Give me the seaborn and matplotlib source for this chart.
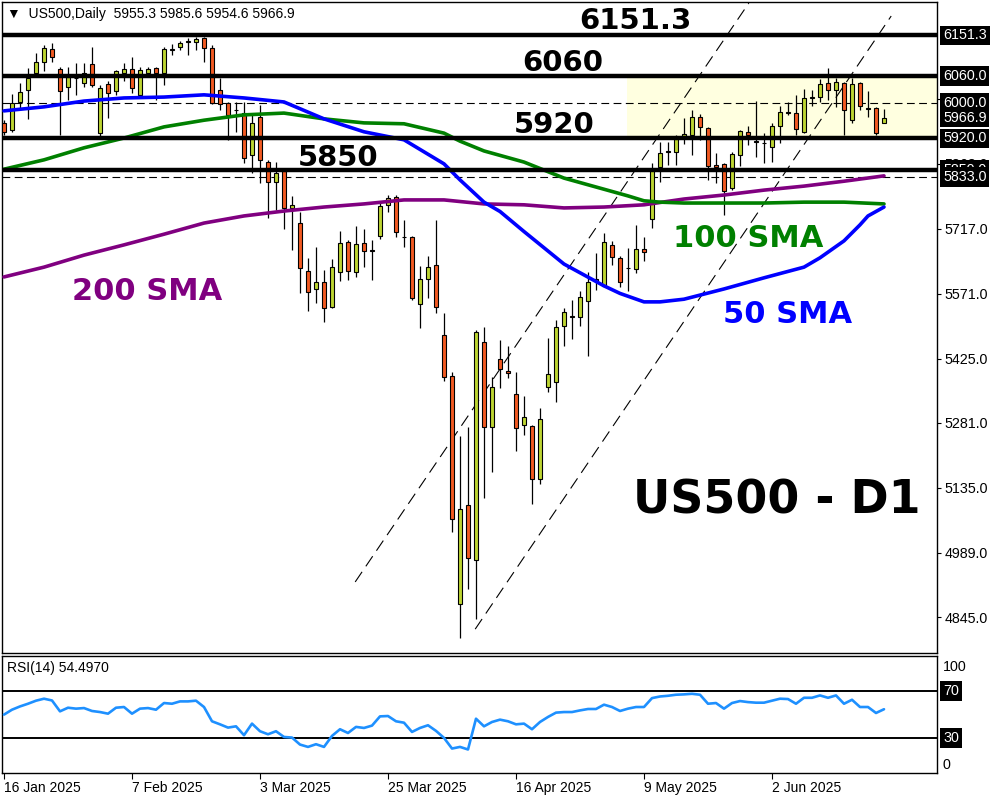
import numpy as np
import pandas as pd
import matplotlib
matplotlib.use("Agg")
import matplotlib.pyplot as plt
from matplotlib.transforms import blended_transform_factory
import seaborn as sns

sns.set_theme(style="white")
plt.rcParams["font.family"] = ["Liberation Sans", "DejaVu Sans"]

# Tageskerzen US500 (Open/High/Low/Close)
opens = [5955, 5939, 6002, 6029, 6067, 6092, 6121, 6076, 6036, 6056,
         6045, 6087, 5932, 6042, 6027, 6067, 6076, 6018, 6067, 6078,
         6067, 6119, 6125, 6137, 6137, 6146, 6123, 6029, 6000, 5984,
         5977, 5883, 5968, 5867, 5822, 5847, 5764, 5730, 5622, 5582,
         5598, 5541, 5620, 5687, 5620, 5685, 5669, 5701, 5771, 5789,
         5699, 5699, 5548, 5604, 5636, 5479, 5386, 4874, 5097, 4973,
         5463, 5272, 5425, 5398, 5346, 5276, 5274, 5155, 5362, 5373,
         5499, 5521, 5519, 5555, 5604, 5589, 5681, 5652, 5629, 5627,
         5672, 5739, 5856, 5890, 5890, 5926, 5928, 5968, 5944, 5860,
         5863, 5809, 5883, 5935, 5914, 5910, 5901, 5948, 5979, 5977,
         5935, 6013, 6013, 6045, 6029, 6045, 5961, 6045, 5988, 5988,
         5955.3]
highs = [5961, 6020, 6045, 6078, 6112, 6130, 6134, 6080, 6080, 6090,
         6090, 6125, 6040, 6049, 6074, 6090, 6103, 6080, 6080, 6080,
         6125, 6132, 6139, 6146, 6148, 6148, 6130, 6056, 6002, 6002,
         6002, 5977, 5995, 5872, 5867, 5849, 5791, 5755, 5652, 5676,
         5625, 5649, 5712, 5692, 5723, 5717, 5692, 5775, 5793, 5793,
         5737, 5701, 5634, 5656, 5737, 5528, 5395, 5252, 5272, 5489,
         5497, 5384, 5467, 5454, 5395, 5342, 5276, 5315, 5472, 5512,
         5539, 5557, 5577, 5620, 5663, 5708, 5690, 5656, 5674, 5726,
         5699, 5865, 5912, 5912, 5928, 5966, 5984, 5975, 5946, 5887,
         5865, 5890, 5939, 5948, 6004, 5932, 5955, 5993, 6002, 6018,
         6031, 6029, 6054, 6078, 6056, 6047, 6056, 6047, 6027, 5991,
         5985.6]
lows = [5928, 5935, 5984, 5964, 6058, 6072, 6092, 5928, 6006, 6018,
        6036, 6036, 5926, 5966, 6018, 6049, 6022, 6013, 6058, 6006,
        6040, 6107, 6119, 6107, 6119, 6092, 5997, 5984, 5917, 5935,
        5865, 5842, 5820, 5741, 5759, 5717, 5669, 5573, 5532, 5550,
        5508, 5539, 5600, 5602, 5609, 5631, 5602, 5694, 5755, 5699,
        5676, 5557, 5494, 5562, 5528, 5375, 5036, 4798, 4908, 4841,
        5112, 5171, 5360, 5382, 5218, 5254, 5099, 5144, 5351, 5328,
        5454, 5470, 5499, 5431, 5580, 5586, 5636, 5586, 5577, 5618,
        5645, 5719, 5822, 5860, 5860, 5908, 5883, 5917, 5827, 5820,
        5748, 5804, 5858, 5905, 5878, 5865, 5867, 5910, 5973, 5928,
        5932, 5993, 6002, 6006, 5991, 5928, 5955, 5984, 5968, 5928,
        5954.6]
closes = [5935, 6000, 6024, 6056, 6092, 6123, 6103, 6027, 6058, 6055,
          6067, 6040, 6033, 6022, 6072, 6076, 6033, 6074, 6076, 6067,
          6121, 6121, 6134, 6138, 6143, 6123, 6000, 5997, 5973, 5983,
          5876, 5955, 5872, 5822, 5842, 5764, 5771, 5629, 5575, 5598,
          5539, 5631, 5685, 5622, 5683, 5667, 5668, 5768, 5786, 5710,
          5698, 5562, 5604, 5631, 5541, 5384, 5065, 5088, 4978, 5485,
          5272, 5362, 5402, 5393, 5270, 5294, 5155, 5290, 5391, 5497,
          5530, 5520, 5564, 5598, 5600, 5687, 5654, 5598, 5628, 5672,
          5665, 5849, 5887, 5892, 5919, 5930, 5968, 5946, 5858, 5856,
          5802, 5885, 5937, 5928, 5913, 5909, 5948, 5979, 5977, 5941,
          6011, 6012, 6042, 6029, 6047, 5984, 6042, 5993, 5987, 5932,
          5966.9]

sma50_idx = [0, 5, 10, 15, 20, 25, 30, 35, 40, 45, 50, 55, 57, 60, 62, 65, 70, 75,
             77, 80, 82, 85, 90, 95, 100, 102, 105, 107, 108, 110]
sma50 = [5982, 5991, 6004, 6011, 6013, 6018, 6011, 6002, 5964, 5935, 5917, 5863, 5827,
         5777, 5756, 5711, 5638, 5589, 5572, 5553, 5553, 5559, 5582, 5607, 5631, 5652,
         5690, 5726, 5746, 5766]
sma100_idx = [0, 5, 10, 15, 20, 25, 30, 35, 40, 45, 50, 55, 57, 60, 65, 70, 75, 78,
              80, 82, 85, 90, 95, 100, 105, 110]
sma100 = [5851, 5872, 5899, 5921, 5946, 5961, 5973, 5977, 5964, 5955, 5953, 5932, 5914,
          5892, 5867, 5831, 5806, 5791, 5780, 5777, 5775, 5775, 5775, 5777, 5777, 5773]
sma200_idx = list(range(0, 111, 5))
sma200 = [5609, 5631, 5658, 5681, 5705, 5730, 5746, 5757, 5766, 5773, 5782, 5782,
          5773, 5771, 5764, 5766, 5771, 5784, 5793, 5804, 5813, 5824, 5836]

# RSI(14)
rsi = [49.9, 54.1, 56.9, 59.2, 61.8, 63.5, 62.0, 52.7, 55.8, 55.0,
       55.5, 53.0, 52.1, 50.7, 55.8, 56.4, 50.7, 55.0, 55.5, 54.1,
       59.8, 59.2, 61.2, 61.2, 61.8, 56.4, 44.2, 41.6, 38.8, 39.9,
       32.3, 42.2, 35.7, 33.1, 35.7, 30.8, 30.3, 24.3, 22.3, 24.6,
       22.3, 31.7, 37.4, 34.2, 39.4, 38.5, 40.5, 48.4, 48.7, 44.2,
       43.0, 35.1, 38.5, 40.8, 36.0, 30.0, 20.9, 22.3, 20.1, 46.4,
       39.9, 43.6, 45.6, 44.2, 41.6, 42.2, 37.4, 43.6, 47.9, 51.6,
       52.1, 52.1, 53.5, 54.7, 54.7, 58.4, 56.4, 53.0, 55.0, 56.4,
       56.4, 64.0, 65.4, 66.0, 66.9, 67.2, 67.7, 66.9, 59.2, 59.8,
       55.0, 59.8, 61.5, 60.6, 60.1, 60.1, 61.8, 63.5, 63.2, 59.2,
       64.3, 64.3, 66.3, 64.3, 66.3, 59.2, 62.6, 56.4, 56.4, 51.3,
       54.5]
rsi_last = 54.4970

# Niveaus und Trendlinien
levels = [6151.3, 6060.0, 5920.0, 5850.0]
level_texts = ["6151.3", "6060", "5920", "5850"]
dashed_levels = [6000.0, 5833.0]
box_values = [6151.3, 6060.0, 6000.0, 5966.9, 5920.0, 5850.0, 5833.0]
price_ticks = [4845, 4989, 5135, 5281, 5425, 5571, 5717, 5863, 6009]
trend_a_x, trend_a_y = [43.9, 93.1], [4924, 6224]
trend_b_x, trend_b_y = [58.9, 110.9], [4818, 6195]
zone_low, zone_high, zone_start = 5920, 6060, 77.9

date_idx = [0, 16, 32, 48, 64, 80, 96]
date_labels = ["16 Jan 2025", "7 Feb 2025", "3 Mar 2025", "25 Mar 2025",
               "16 Apr 2025", "9 May 2025", "2 Jun 2025"]

df = pd.DataFrame({"open": opens, "high": highs, "low": lows, "close": closes})
df["i"] = np.arange(len(df))
df["up"] = df["close"] >= df["open"]

bull, bear = "#BDD532", "#F25A22"
xmin, xmax = -0.25, 116.625

fig = plt.figure(figsize=(10, 8), dpi=100)
fig.patch.set_facecolor("white")
ax = fig.add_axes([0.002, 0.18375, 0.935, 0.81375])
ax_rsi = fig.add_axes([0.002, 0.03375, 0.935, 0.14625])

# Zone
ax.fill_between([zone_start, xmax], zone_low, zone_high, color="#FFFFE0", lw=0, zorder=0)

# Kerzen
ax.vlines(df["i"], df["low"], df["high"], colors="black", linewidth=0.9, zorder=3)
body_lo = np.minimum(df["open"], df["close"])
body_h = np.maximum((df["close"] - df["open"]).abs(), 0.5)
ax.bar(df["i"], body_h, bottom=body_lo, width=0.62,
       color=np.where(df["up"], bull, bear), edgecolor="black", linewidth=0.8, zorder=4)

# SMAs
sns.lineplot(x=sma200_idx, y=sma200, ax=ax, color="#800080", linewidth=2.6, zorder=5)
sns.lineplot(x=sma100_idx, y=sma100, ax=ax, color="#008000", linewidth=2.6, zorder=5)
sns.lineplot(x=sma50_idx, y=sma50, ax=ax, color="#0000FF", linewidth=2.6, zorder=5)

# Linien
for lvl in dashed_levels:
    ax.axhline(lvl, color="black", lw=0.8, dashes=(7, 4), zorder=2)
for lvl in levels:
    ax.axhline(lvl, color="black", lw=3.2, zorder=6)
ax.plot(trend_a_x, trend_a_y, color="black", lw=0.8, dashes=(11, 6), zorder=3)
ax.plot(trend_b_x, trend_b_y, color="black", lw=0.8, dashes=(11, 6), zorder=3)

ax.set_xlim(xmin, xmax)
ax.set_ylim(4764.4, 6226.5)
ax.set_xticks([])
ax.set_xlabel("")
ax.set_ylabel("")
ax.yaxis.set_ticks_position("right")
ax.set_yticks(price_ticks)
ax.set_yticklabels([f"{v:.1f}" for v in price_ticks])
ax.tick_params(axis="y", right=True, left=False, length=3, width=0.8, pad=2.5,
               labelsize=10.3, colors="black")
for s in ax.spines.values():
    s.set_color("black")
    s.set_linewidth(1)

# Beschriftungen im Chart
big = dict(family="DejaVu Sans", weight="bold", ha="center", va="baseline", zorder=8)
label_pos = [(0.677, 0.9585), (0.600, 0.894), (0.591, 0.799), (0.359, 0.748)]
for (px, py), txt in zip(label_pos, level_texts):
    ax.text(px, py, txt, transform=ax.transAxes, fontsize=21, color="black", **big)
ax.text(0.1556, 0.542, "200 SMA", transform=ax.transAxes, fontsize=22, color="#800080", **big)
ax.text(0.798, 0.6237, "100 SMA", transform=ax.transAxes, fontsize=22, color="#008000", **big)
ax.text(0.8406, 0.5069, "50 SMA", transform=ax.transAxes, fontsize=22, color="#0000FF", **big)
ax.text(0.829, 0.215, "US500 - D1", transform=ax.transAxes, fontsize=33, color="black", **big)

ax.text(0.0053, 0.975, f"▼  US500,Daily  {opens[-1]} {highs[-1]} {lows[-1]} {closes[-1]}",
        transform=ax.transAxes, fontsize=10, color="black", ha="left", va="baseline", zorder=9)

# Preisboxen rechts
tr = blended_transform_factory(ax.transAxes, ax.transData)
for val in box_values:
    ax.text(1.0064, val, f"{val:.1f}", transform=tr, ha="left", va="center", color="white",
            fontsize=10.3, clip_on=False, zorder=10,
            bbox=dict(boxstyle="square,pad=0.2", fc="black", ec="none"))

# RSI-Panel
sns.lineplot(x=df["i"], y=rsi, ax=ax_rsi, color="#1E90FF", linewidth=1.9, zorder=4)
ax_rsi.axhline(70, color="black", lw=1.4, zorder=3)
ax_rsi.axhline(30, color="black", lw=1.4, zorder=3)
ax_rsi.set_xlim(xmin, xmax)
ax_rsi.set_ylim(0, 100)
ax_rsi.set_yticks([])
ax_rsi.set_xlabel("")
ax_rsi.set_ylabel("")
ax_rsi.set_xticks(date_idx)
ax_rsi.set_xticklabels(date_labels, ha="left")
ax_rsi.tick_params(axis="x", bottom=True, length=4, width=0.8, pad=2, labelsize=10, colors="black")
for s in ax_rsi.spines.values():
    s.set_color("black")
    s.set_linewidth(1)

tr2 = blended_transform_factory(ax_rsi.transAxes, ax_rsi.transData)
ax_rsi.text(1.0064, 90.5, "100", transform=tr2, ha="left", va="center", fontsize=10.3, color="black")
ax_rsi.text(1.0064, 6.7, "0", transform=tr2, ha="left", va="center", fontsize=10.3, color="black")
for val in [70, 30]:
    ax_rsi.text(1.0064, val, str(val), transform=tr2, ha="left", va="center", color="white",
                fontsize=10.3, clip_on=False, zorder=10,
                bbox=dict(boxstyle="square,pad=0.2", fc="black", ec="none"))
ax_rsi.text(0.0053, 0.865, f"RSI(14) {rsi_last:.4f}", transform=ax_rsi.transAxes,
            fontsize=10, color="black", ha="left", va="baseline")

fig.savefig("out.png", dpi=100)
